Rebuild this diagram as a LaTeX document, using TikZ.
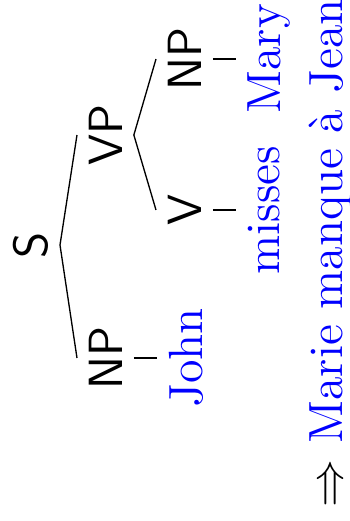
\documentclass[tikz,border=0pt]{standalone}
\usepackage{xcolor}
\usepackage{tikz}

\begin{document}
\begin{tikzpicture}[
    x=0.3pt, y=0.3pt,
    cat/.style={font=\Large\sffamily, anchor=north},
    word/.style={font=\Large, text=blue, anchor=north},
    branch/.style={thin}
]
\begin{scope}[rotate=90, transform shape]
\useasboundingbox (0,0) rectangle (521,350);

\node[cat, anchor=south] (s) at (276,290) {S};
\node[cat] (np1) at (163,273) {NP};
\node[cat] (vp) at (386,273) {VP};
\node[cat] (v) at (311,194) {V};
\node[cat] (np2) at (462,194) {NP};

\node[word] (john) at (163,193) {John};
\node[word] (misses) at (311,114) {misses};
\node[word] (mary) at (462,114) {Mary};

\node[font=\Large, inner sep=0pt, anchor=base west] (trans) at (13,7) {$\Rightarrow$ \textcolor{blue}{Marie manque à Jean}};

\draw[branch] (s.south) -- (np1.north);
\draw[branch] (s.south) -- (vp.north);
\draw[branch] (vp.south) -- (v.north);
\draw[branch] (vp.south) -- (np2.north);
\draw[branch] (np1.south) -- (john.north);
\draw[branch] (v.south) -- (misses.north);
\draw[branch] (np2.south) -- (mary.north);
\end{scope}

\end{tikzpicture}
\end{document}
